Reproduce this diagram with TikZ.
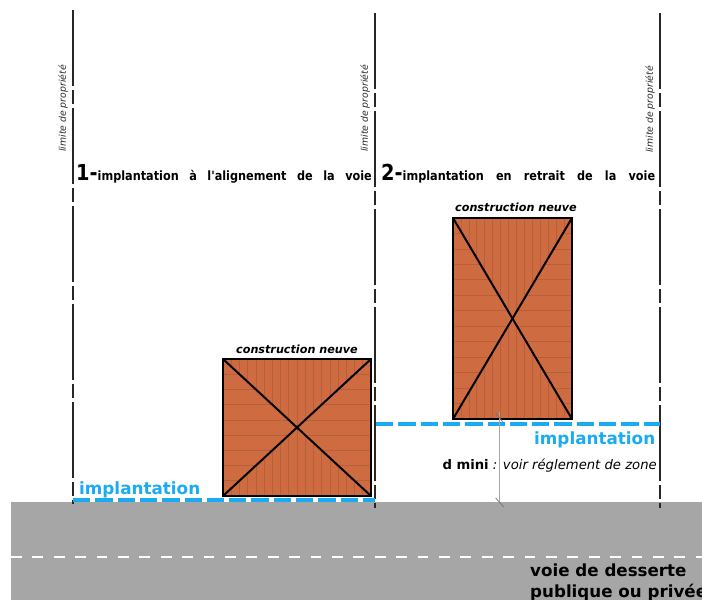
\documentclass[tikz,border=0pt]{standalone}
\usepackage{fontspec}
\usetikzlibrary{calc}
\setmainfont{DejaVu Sans}
\newfontfamily\narrowfont[FakeStretch=0.88]{DejaVu Sans}
\definecolor{roadgrey}{HTML}{A6A6A6}
\definecolor{brick}{HTML}{CE6B41}
\definecolor{brickline}{HTML}{B5603C}
\definecolor{setback}{HTML}{1BABF2}

\tikzset{
  limit/.style={black!85,line width=1.9pt,dash pattern=on 76pt off 4pt on 14pt off 4pt},
  setbackline/.style={setback,line width=3.4pt,dash pattern=on 17.3pt off 5pt},
  building/.style={draw=black,line width=2pt,fill=brick,inner sep=0pt,outer sep=0pt},
  cross/.style={black,line width=2pt},
  hatch/.style={brickline,line width=0.7pt},
  limitlabel/.style={rotate=90,anchor=west,inner sep=0pt,font=\itshape\fontsize{9.3}{11}\selectfont,black!85},
  blocklabel/.style={inner sep=0pt,anchor=base,font=\bfseries\itshape\fontsize{11.2}{13}\selectfont},
  setbacklabel/.style={inner sep=0pt,anchor=base west,text=setback,font=\bfseries\fontsize{16.8}{19}\selectfont},
  titlelabel/.style={inner sep=0pt,anchor=base west,font=\narrowfont\bfseries\fontsize{12.8}{15}\selectfont}
}

% hatching of one building: vertical in top and bottom, horizontal left and right
\newcommand{\hatchbuilding}[3]{
  \begin{scope}
    \clip (#1.north west) -- (#1.center) -- (#1.north east) -- cycle
      (#1.south west) -- (#1.center) -- (#1.south east) -- cycle;
    \foreach \i in {0,...,#2}
      \draw[hatch] ($(#1.south west)!\i/#2!(#1.south east)$) -- ($(#1.north west)!\i/#2!(#1.north east)$);
  \end{scope}
  \begin{scope}
    \clip (#1.north west) -- (#1.center) -- (#1.south west) -- cycle
      (#1.north east) -- (#1.center) -- (#1.south east) -- cycle;
    \foreach \i in {0,...,#3}
      \draw[hatch] ($(#1.north west)!\i/#3!(#1.south west)$) -- ($(#1.north east)!\i/#3!(#1.south east)$);
  \end{scope}
  \draw[cross] (#1.north west) -- (#1.south east);
  \draw[cross] (#1.north east) -- (#1.south west);
  \draw[draw=black,line width=2pt] (#1.north west) rectangle (#1.south east);
}

\begin{document}
\begin{tikzpicture}[x=1pt,y=-1pt]
  \useasboundingbox (0,0) rectangle (702,600);

  % road
  \fill[roadgrey] (11,502) rectangle (702,600);
  \coordinate (midA) at (11,557);
  \coordinate (midB) at (702,557);
  \draw[white,line width=1.2pt,dash pattern=on 10.7pt off 10.7pt] (midA) -- (midB);

  % property limits
  \coordinate (limAtop) at (73,10);
  \coordinate (limAbot) at (73,504);
  \coordinate (limBtop) at (375,13);
  \coordinate (limBbot) at (375,508);
  \coordinate (limCtop) at (660,13);
  \coordinate (limCbot) at (660,508);
  \draw[limit] (limAtop) -- (limAbot);
  \draw[limit] (limBtop) -- (limBbot);
  \draw[limit] (limCtop) -- (limCbot);

  \node[limitlabel] (labA) at (63,152) {limite de propriété};
  \node[limitlabel] (labB) at (365,152) {limite de propriété};
  \node[limitlabel] (labC) at (650,153) {limite de propriété};

  % titles
  \node[titlelabel] (titleA) at (76,180.5)
    {\spaceskip=10.5pt{\fontsize{22}{22}\selectfont 1-}implantation à l'alignement de la voie};
  \node[titlelabel] (titleB) at (381,180.5)
    {\spaceskip=12.2pt{\fontsize{22}{22}\selectfont 2-}implantation en retrait de la voie};

  % buildings
  \node[building,minimum width=148pt,minimum height=137pt] (bldA) at (297,427.5) {};
  \node[building,minimum width=119pt,minimum height=201pt] (bldB) at (512.5,318.5) {};
  \hatchbuilding{bldA}{18}{9}
  \hatchbuilding{bldB}{15}{13}
  \node[blocklabel] (consA) at (297,353) {construction neuve};
  \node[blocklabel] (consB) at (516,211) {construction neuve};

  % setback lines
  \coordinate (setAa) at (73,500);
  \coordinate (setAb) at (375,500);
  \coordinate (setBa) at (376,424);
  \coordinate (setBb) at (660,424);
  \draw[setbackline] (setAa) -- (setAb);
  \draw[setbackline] (setBa) -- (setBb);
  \node[setbacklabel] (implA) at (79,494) {implantation};
  \node[setbacklabel] (implB) at (534,444) {implantation};

  % distance
  \coordinate (distA) at (499.7,412);
  \coordinate (distB) at (499.7,507);
  \draw[black!35,line width=0.8pt] (distA) -- (distB);
  \draw[black!55,line width=0.7pt] ($(distA)+(-4,1)$) -- ($(distA)+(4,11)$);
  \draw[black!55,line width=0.7pt] ($(distB)+(-4,-9)$) -- ($(distB)+(4,0)$);
  \node[inner sep=0pt,anchor=base east,font=\fontsize{13.2}{15}\selectfont] (dmini) at (657,469)
    {\textbf{d mini} \textit{: voir réglement de zone}};

  % road label
  \node[inner sep=0pt,anchor=base west,align=left,font=\bfseries\fontsize{16.7}{20.5}\selectfont] (road) at (530,597)
    {voie de desserte\\publique ou privée};
\end{tikzpicture}
\end{document}
